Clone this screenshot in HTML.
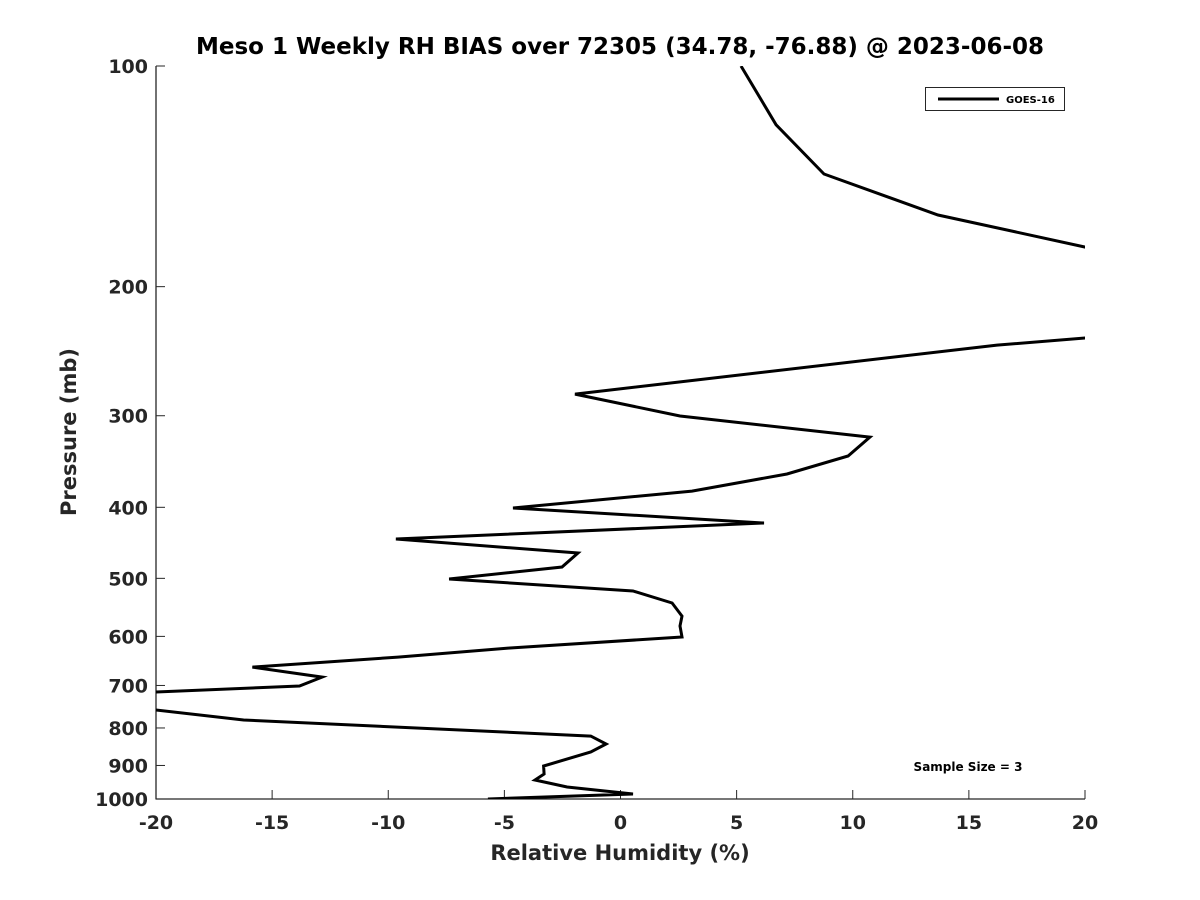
<!DOCTYPE html>
<html><head><meta charset="utf-8"><style>
html,body{margin:0;padding:0;background:#fff;}
svg{display:block;font-family:"DejaVu Sans","Liberation Sans",sans-serif;}
</style></head><body>
<svg id="chart" width="1200" height="900" viewBox="0 0 1200 900">
<defs><clipPath id="clip"><rect x="156" y="66" width="929" height="733"/></clipPath></defs>
<rect width="1200" height="900" fill="#fff"/>
<text x="620" y="54" text-anchor="middle" font-size="23" font-weight="bold" fill="#000">Meso 1 Weekly RH BIAS over 72305 (34.78, -76.88) @ 2023-06-08</text>
<g id="axes"></g>
<g id="series" clip-path="url(#clip)"></g>
<text x="620" y="860" text-anchor="middle" font-size="21" font-weight="bold" fill="#262626">Relative Humidity (%)</text>
<text transform="translate(76,432) rotate(-90)" text-anchor="middle" font-size="21" font-weight="bold" fill="#262626">Pressure (mb)</text>
<g>
<rect x="925.5" y="87.5" width="139" height="23" fill="#fff" stroke="#262626" stroke-width="1"/>
<line x1="938" y1="99" x2="999" y2="99" stroke="#000" stroke-width="3"/>
<text x="1006" y="103" font-size="10" font-weight="bold" fill="#000">GOES-16</text>
</g>
<text x="968" y="771" text-anchor="middle" font-size="12" font-weight="bold" fill="#000">Sample Size = 3</text>
</svg>
<script>
const xTicks = [-20,-15,-10,-5,0,5,10,15,20];
const yTicks = [100,200,300,400,500,600,700,800,900,1000];
const rhBias = [5.19,6.70,8.76,13.67,21,21,16.21,-1.96,2.56,10.74,9.80,7.17,3.08,-4.63,6.18,-9.67,-1.83,-2.52,-7.38,0.54,2.22,2.65,2.56,2.65,-4.84,-9.58,-15.85,-12.85,-13.82,-21,-21,-16.23,-1.28,-0.62,-1.28,-3.31,-3.29,-3.68,-2.30,0.54,-5.71];
const pressure = [100,120.3,140.4,159.7,179.4,233.7,240.3,280.3,300.3,320.8,340.5,360.3,380.1,400.9,420.2,441.9,461.7,482.5,501,520.2,540.2,562.9,580.7,601.2,622.5,640.3,660.7,681.8,701.3,716.8,749.9,780.3,820.6,841.4,862.8,901.6,924.5,942.2,962.9,984.5,1000];

const L=156,R=1085,T=66,B=799;
const xs=v=>L+(v+20)/40*(R-L);
const ys=p=>T+(Math.log10(p)-2)*(B-T);
const NS='http://www.w3.org/2000/svg';
const axes=document.getElementById('axes');
function mk(tag,attrs,parent){const e=document.createElementNS(NS,tag);for(const k in attrs)e.setAttribute(k,attrs[k]);parent.appendChild(e);return e;}
let a=mk('line',{x1:L,y1:T,x2:L,y2:B+0.5,stroke:'#262626','stroke-width':1.3},axes);


a=mk('line',{x1:L,y1:B,x2:R,y2:B,stroke:'#262626','stroke-width':1.3},axes);


xTicks.forEach(v=>{
  const x=xs(v);
  const t=mk('line',{x1:x,y1:B,x2:x,y2:B-9,stroke:'#262626','stroke-width':1},axes);
  
  
  const l=mk('text',{x:x,y:B+30,'text-anchor':'middle','font-size':19,'font-weight':'bold',fill:'#262626'},axes);
  l.textContent=v;
  
  
});
yTicks.forEach(v=>{
  const y=ys(v);
  const t=mk('line',{x1:L,y1:y,x2:L+9,y2:y,stroke:'#262626','stroke-width':1},axes);
  
  
  const l=mk('text',{x:L-8,y:y+7,'text-anchor':'end','font-size':19,'font-weight':'bold',fill:'#262626'},axes);
  l.textContent=v;
  
  
});
const pts=rhBias.map((v,i)=>xs(v).toFixed(1)+','+ys(pressure[i]).toFixed(1)).join(' ');
const line=mk('polyline',{points:pts,fill:'none',stroke:'#000','stroke-width':3,'stroke-linejoin':'miter'},document.getElementById('series'));


</script>
</body></html>
